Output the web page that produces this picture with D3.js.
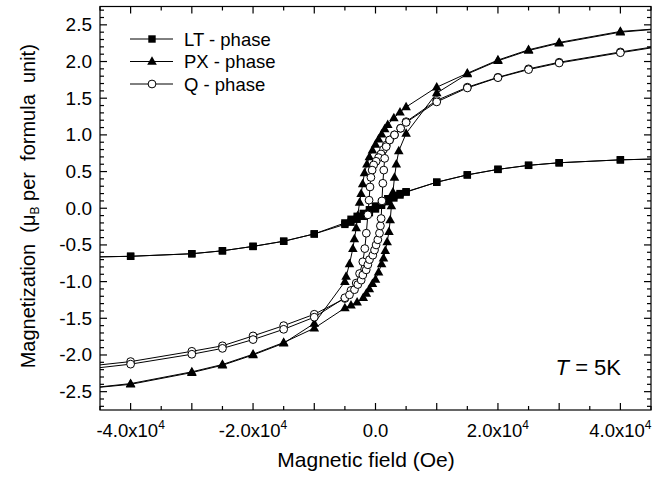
<!DOCTYPE html>
<html>
<head>
<meta charset="utf-8">
<script src="https://cdn.jsdelivr.net/npm/d3@7"></script>
<style>
    body { margin: 0; background: #fff; }
    text { font-family: "Liberation Sans", Arial, sans-serif; fill: #000; }
</style>
</head>
<body>
<div id="chart"></div>
<script>
// LT - phase (squares), down branch then up branch
const ltDownH = [50000, 40000, 30000, 25000, 20000, 15000, 10000, 5000, 4000, 3000, 2000, 1000, 0, -1000, -2000, -3000, -4000, -5000, -10000, -15000, -20000, -25000, -30000, -40000, -50000];
const ltDownM = [0.68, 0.66, 0.62, 0.585, 0.53, 0.455, 0.355, 0.225, 0.20, 0.17, 0.13, 0.08, 0.03, -0.02, -0.07, -0.11, -0.15, -0.20, -0.35, -0.45, -0.52, -0.58, -0.62, -0.655, -0.67];
const ltUpH = [-50000, -40000, -30000, -25000, -20000, -15000, -10000, -5000, -4000, -3000, -2000, -1000, 0, 1000, 2000, 3000, 4000, 5000, 10000, 15000, 20000, 25000, 30000, 40000, 50000];
const ltUpM = [-0.67, -0.655, -0.62, -0.58, -0.52, -0.45, -0.35, -0.22, -0.19, -0.15, -0.11, -0.06, -0.01, 0.04, 0.09, 0.14, 0.18, 0.22, 0.355, 0.455, 0.53, 0.585, 0.62, 0.66, 0.68];

// PX - phase (triangles)
const pxDownH = [50000, 40000, 30000, 25000, 20000, 15000, 10000, 5000, 4000, 3000, 2000, 1500, 1000, 500, 0, -500, -1000, -1400, -1800, -2100, -2350, -2600, -2900, -3150, -3450, -3700, -4250, -4800, -5000, -10000, -15000, -20000, -25000, -30000, -40000, -50000];
const pxDownM = [2.47, 2.41, 2.26, 2.16, 2.02, 1.84, 1.65, 1.38, 1.31, 1.23, 1.14, 1.08, 1.01, 0.94, 0.87, 0.79, 0.70, 0.60, 0.48, 0.33, 0.20, 0.08, -0.10, -0.27, -0.42, -0.55, -0.76, -0.93, -1.00, -1.57, -1.84, -2.00, -2.14, -2.24, -2.40, -2.48];
const pxUpH = [-50000, -40000, -30000, -25000, -20000, -15000, -10000, -5000, -4000, -3000, -2000, -1500, -1000, -500, 0, 500, 1000, 1300, 1600, 1900, 2200, 2400, 2600, 2850, 3100, 3400, 3800, 5000, 10000, 15000, 20000, 25000, 30000, 40000, 50000];
const pxUpM = [-2.48, -2.39, -2.23, -2.13, -1.99, -1.83, -1.635, -1.36, -1.32, -1.28, -1.22, -1.16, -1.10, -1.03, -0.97, -0.87, -0.76, -0.68, -0.58, -0.46, -0.32, -0.16, 0.03, 0.22, 0.42, 0.60, 0.78, 1.02, 1.57, 1.83, 2.01, 2.15, 2.25, 2.40, 2.47];

// Q - phase (open circles)
const qDownH = [50000, 40000, 30000, 25000, 20000, 15000, 10000, 5000, 4100, 3100, 2300, 1750, 1300, 900, 500, 100, -300, -550, -750, -900, -1050, -1250, -1500, -1750, -2070, -2600, -3150, -4000, -5000, -10000, -15000, -20000, -25000, -30000, -40000, -50000];
const qDownM = [2.26, 2.13, 1.99, 1.90, 1.785, 1.65, 1.47, 1.18, 1.09, 1.00, 0.93, 0.86, 0.80, 0.74, 0.69, 0.64, 0.59, 0.52, 0.42, 0.29, 0.11, -0.09, -0.34, -0.55, -0.73, -0.89, -1.02, -1.12, -1.23, -1.445, -1.60, -1.74, -1.875, -1.95, -2.09, -2.18];
const qUpH = [-50000, -40000, -30000, -25000, -20000, -15000, -10000, -5000, -4250, -3430, -2890, -2340, -2070, -1520, -1250, -980, -440, -160, 100, 380, 650, 800, 920, 1050, 1200, 1350, 1500, 1750, 2300, 3100, 4100, 5000, 10000, 15000, 20000, 25000, 30000, 40000, 50000];
const qUpM = [-2.22, -2.125, -1.99, -1.91, -1.79, -1.65, -1.485, -1.22, -1.18, -1.11, -1.04, -0.98, -0.91, -0.84, -0.77, -0.70, -0.64, -0.57, -0.50, -0.43, -0.34, -0.24, -0.14, 0.10, 0.34, 0.52, 0.68, 0.84, 0.93, 1.00, 1.09, 1.17, 1.45, 1.64, 1.78, 1.89, 1.98, 2.12, 2.25];

const legendNames = ['LT - phase', 'PX - phase', 'Q - phase'];
const xLabelTicks = [-40000, -20000, 0, 20000, 40000];
const yLabelTicks = [-2.5, -2.0, -1.5, -1.0, -0.5, 0.0, 0.5, 1.0, 1.5, 2.0, 2.5];

const width = 663;
const height = 477;
const margin = { top: 6.5, right: 12, bottom: 67, left: 100 };

const x = d3.scaleLinear().domain([-45000, 45000]).range([margin.left, width - margin.right]);
const y = d3.scaleLinear().domain([-2.75, 2.75]).range([height - margin.bottom, margin.top]);

const svg = d3.select('#chart')
    .append('svg')
    .attr('width', width)
    .attr('height', height);

svg.append('clipPath')
    .attr('id', 'plotclip')
    .append('rect')
    .attr('x', x(-45000))
    .attr('y', y(2.75))
    .attr('width', x(45000) - x(-45000))
    .attr('height', y(-2.75) - y(2.75));

function zip(h, m) {
    return h.map((d, i) => [d, m[i]]);
}

const series = [
    { name: legendNames[0], shape: 'square', branches: [zip(ltDownH, ltDownM), zip(ltUpH, ltUpM)] },
    { name: legendNames[1], shape: 'triangle', branches: [zip(pxDownH, pxDownM), zip(pxUpH, pxUpM)] },
    { name: legendNames[2], shape: 'circle', branches: [zip(qDownH, qDownM), zip(qUpH, qUpM)] }
];

function marker(sel, shape) {
    if (shape === 'circle') {
        sel.append('circle').attr('r', 3.9)
            .style('fill', '#fff').style('stroke', '#000').style('stroke-width', 1);
    } else if (shape === 'square') {
        sel.append('rect').attr('x', -3.7).attr('y', -3.7).attr('width', 7.4).attr('height', 7.4)
            .style('fill', '#000');
    } else {
        sel.append('path').attr('d', 'M0,-5.2L4.8,3.3L-4.8,3.3Z').style('fill', '#000');
    }
}

const line = d3.line().x(d => x(d[0])).y(d => y(d[1]));
const plot = svg.append('g').attr('clip-path', 'url(#plotclip)');

series.forEach(s => {
    s.branches.forEach(b => {
        plot.append('path')
            .attr('d', line(b))
            .style('fill', 'none')
            .style('stroke', '#000')
            .style('stroke-width', 1);
    });
});
series.forEach(s => {
    s.branches.forEach(b => {
        b.filter(d => d[0] >= -45000 && d[0] <= 45000).forEach(d => {
            const g = plot.append('g').attr('transform', `translate(${x(d[0])},${y(d[1])})`);
            marker(g, s.shape);
        });
    });
});

// axes, ticks pointing inward
const xMajor = d3.range(-40000, 40001, 10000);
const xMinor = d3.range(-45000, 45001, 10000);
const yMajor = yLabelTicks;
const yMinor = d3.range(-27, 28).map(v => v / 10).filter(v => Math.abs(v * 2 - Math.round(v * 2)) > 1e-6);

const axes = svg.append('g').style('stroke', '#000').style('stroke-width', 1.2);

function ticksX(vals, len) {
    vals.forEach(v => {
        axes.append('line').attr('x1', x(v)).attr('x2', x(v)).attr('y1', y(-2.75)).attr('y2', y(-2.75) - len);
        axes.append('line').attr('x1', x(v)).attr('x2', x(v)).attr('y1', y(2.75)).attr('y2', y(2.75) + len);
    });
}
function ticksY(vals, len) {
    vals.forEach(v => {
        axes.append('line').attr('y1', y(v)).attr('y2', y(v)).attr('x1', x(-45000)).attr('x2', x(-45000) + len);
        axes.append('line').attr('y1', y(v)).attr('y2', y(v)).attr('x1', x(45000)).attr('x2', x(45000) - len);
    });
}
ticksX(xMajor, 7);
ticksX(xMinor, 4);
ticksY(yMajor, 7);
ticksY(yMinor, 4);

axes.append('rect')
    .attr('x', x(-45000)).attr('y', y(2.75))
    .attr('width', x(45000) - x(-45000)).attr('height', y(-2.75) - y(2.75))
    .style('fill', 'none');

// tick labels
xLabelTicks.forEach(v => {
    const t = svg.append('text')
        .attr('x', x(v))
        .attr('y', 437)
        .attr('text-anchor', 'middle')
        .style('font-size', '18.5px');
    if (v === 0) {
        t.text('0.0');
    } else {
        const mant = (v / 10000).toFixed(1).replace('\u2212', '-');
        t.append('tspan').text(mant + 'x10');
        t.append('tspan').attr('dy', -8).style('font-size', '12px').text('4');
    }
});

yLabelTicks.forEach(v => {
    svg.append('text')
        .attr('x', 92)
        .attr('y', y(v) + 6.5)
        .attr('text-anchor', 'end')
        .style('font-size', '19px')
        .text(v.toFixed(1));
});

// axis titles
svg.append('text')
    .attr('x', 366)
    .attr('y', 467)
    .attr('text-anchor', 'middle')
    .style('font-size', '21px')
    .text('Magnetic field (Oe)');

const yt = svg.append('text')
    .attr('transform', `translate(35,${(y(2.75) + y(-2.75)) / 2 - 2}) rotate(-90)`)
    .attr('text-anchor', 'middle')
    .style('font-size', '20px')
    .attr('xml:space', 'preserve');
yt.append('tspan').text('Magnetization  (\u03bc');
yt.append('tspan').attr('dy', 4).style('font-size', '12px').text('B');
yt.append('tspan').attr('dy', -4).text(' per  formula  unit)');

// temperature note
const tn = svg.append('text')
    .attr('x', 621)
    .attr('y', 375)
    .attr('text-anchor', 'end')
    .style('font-size', '22px');
tn.append('tspan').style('font-style', 'italic').text('T');
tn.append('tspan').text(' = 5K');

// legend
const legend = svg.append('g');
series.forEach((s, i) => {
    const ly = 39 + i * 22.5;
    legend.append('line')
        .attr('x1', 130).attr('x2', 173).attr('y1', ly).attr('y2', ly)
        .style('stroke', '#000').style('stroke-width', 1);
    const g = legend.append('g').attr('transform', `translate(152,${ly})`);
    marker(g, s.shape);
    legend.append('text')
        .attr('x', 184)
        .attr('y', ly + 6.5)
        .style('font-size', '18.5px')
        .text(s.name);
});
</script>
</body>
</html>
